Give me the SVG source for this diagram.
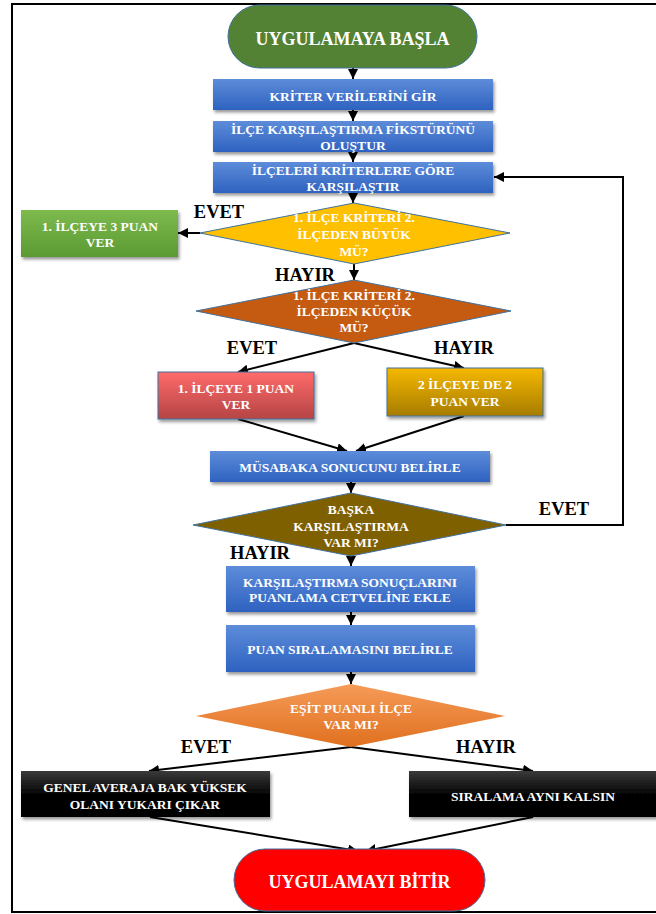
<svg xmlns="http://www.w3.org/2000/svg" width="656" height="914" viewBox="0 0 656 914">
<defs>
<style>
.t{font-weight:bold;fill:#fff;text-anchor:middle;font-size:13.5px}
.big{font-size:18px}
.lbl{font-weight:bold;fill:#000;text-anchor:middle;font-size:18.5px}
.edge{stroke:#000;stroke-width:2;fill:none;marker-end:url(#ah)}
.sh{filter:url(#ds)}
.bd{stroke:#41719C;stroke-width:1}
</style>
<marker id="ah" markerUnits="userSpaceOnUse" markerWidth="11" markerHeight="10" refX="10" refY="5" orient="auto"><path d="M0,0 L10,5 L0,10 z" fill="#000"/></marker>
<filter id="ds" x="-10%" y="-20%" width="125%" height="150%"><feDropShadow dx="1.5" dy="2.5" stdDeviation="1.8" flood-color="#000" flood-opacity="0.4"/></filter>
<linearGradient id="gBlue" x1="0" y1="0" x2="0" y2="1"><stop offset="0" stop-color="#5D8CD9"/><stop offset="1" stop-color="#2E62C0"/></linearGradient>
<linearGradient id="gGreen" x1="0" y1="0" x2="0" y2="1"><stop offset="0" stop-color="#7DBA4E"/><stop offset="1" stop-color="#5B9A33"/></linearGradient>
<linearGradient id="gRed" x1="0" y1="0" x2="0" y2="1"><stop offset="0" stop-color="#FF6B6B"/><stop offset="1" stop-color="#B54444"/></linearGradient>
<linearGradient id="gGold" x1="0" y1="0" x2="0" y2="1"><stop offset="0" stop-color="#F5B800"/><stop offset="1" stop-color="#A77C00"/></linearGradient>
<linearGradient id="gOrange" x1="0" y1="0" x2="0" y2="1"><stop offset="0" stop-color="#F59B58"/><stop offset="1" stop-color="#E0701F"/></linearGradient>
<linearGradient id="gBlack" x1="0" y1="0" x2="0" y2="1"><stop offset="0" stop-color="#3A3A3A"/><stop offset="0.5" stop-color="#050505"/><stop offset="1" stop-color="#000"/></linearGradient>
</defs>
<rect x="0" y="0" width="656" height="914" fill="#fff"/>
<rect x="12" y="4" width="660" height="908" fill="none" stroke="#000" stroke-width="2"/>

<g id="connectors">
<line class="edge" x1="353" y1="68" x2="353" y2="79"/>
<line class="edge" x1="353" y1="110" x2="353" y2="121"/>
<line class="edge" x1="353" y1="152" x2="353" y2="162"/>
<line class="edge" x1="353" y1="193" x2="353" y2="203"/>
<line class="edge" x1="200" y1="233" x2="178" y2="233"/>
<line class="edge" x1="354" y1="264" x2="354" y2="280"/>
<line class="edge" x1="354" y1="343" x2="238" y2="372"/>
<line class="edge" x1="354" y1="343" x2="464" y2="368"/>
<line class="edge" x1="238" y1="419" x2="347" y2="451"/>
<line class="edge" x1="464" y1="416" x2="356" y2="451"/>
<line class="edge" x1="351" y1="482" x2="351" y2="493"/>
<polyline class="edge" points="506,525 623,525 623,177 494,177"/>
<line class="edge" x1="351" y1="556" x2="351" y2="566"/>
<line class="edge" x1="351" y1="612" x2="351" y2="625"/>
<line class="edge" x1="351" y1="672" x2="351" y2="684"/>
<line class="edge" x1="351" y1="747" x2="149" y2="771"/>
<line class="edge" x1="351" y1="747" x2="533" y2="771"/>
<line class="edge" x1="150" y1="817" x2="358" y2="851"/>
<line class="edge" x1="533" y1="817" x2="366" y2="851"/>
</g>

<g font-family="Liberation Serif, Times New Roman, DejaVu Serif, serif">
<g id="start">
<rect class="bd" x="228" y="5" width="249" height="63" rx="31.5" fill="#548235"/>
<text class="t big" x="352.5" y="45">UYGULAMAYA BAŞLA</text>
</g>

<g id="kriter">
<rect class="sh" x="213" y="79" width="280" height="31" fill="url(#gBlue)"/>
<text class="t" x="353" y="101">KRİTER VERİLERİNİ GİR</text>
</g>

<g id="fikstur">
<rect class="sh" x="213" y="121" width="280" height="31" fill="url(#gBlue)"/>
<text class="t" x="353" y="134">İLÇE KARŞILAŞTIRMA  FİKSTÜRÜNÜ</text>
<text class="t" x="353" y="150">OLUŞTUR</text>
</g>

<g id="karsilastir">
<rect class="sh" x="213" y="162" width="280" height="31" fill="url(#gBlue)"/>
<text class="t" x="353" y="175">İLÇELERİ KRİTERLERE  GÖRE</text>
<text class="t" x="353" y="191">KARŞILAŞTIR</text>
</g>

<g id="buyuk">
<polygon class="bd" points="354,203 510,233 354,264 200,233" fill="#FFC000"/>
<text class="t" x="354" y="222">1. İLÇE KRİTERİ  2.</text>
<text class="t" x="354" y="239">İLÇEDEN BÜYÜK</text>
<text class="t" x="354" y="256">MÜ?</text>
</g>

<g id="puan3">
<rect class="sh" x="21" y="210" width="157" height="47" fill="url(#gGreen)"/>
<text class="t" x="100" y="231">1. İLÇEYE 3 PUAN</text>
<text class="t" x="100" y="247">VER</text>
</g>

<g id="kucuk">
<polygon class="bd" points="354,280 511,311 354,343 196,311" fill="#C55A11"/>
<text class="t" x="354" y="300">1. İLÇE KRİTERİ  2.</text>
<text class="t" x="354" y="316">İLÇEDEN KÜÇÜK</text>
<text class="t" x="354" y="332">MÜ?</text>
</g>

<g id="puan1">
<rect class="sh bd" x="158" y="372" width="156" height="47" fill="url(#gRed)"/>
<text class="t" x="236" y="393">1. İLÇEYE  1 PUAN</text>
<text class="t" x="236" y="409">VER</text>
</g>

<g id="puan2">
<rect class="sh bd" x="387" y="368" width="156" height="48" fill="url(#gGold)"/>
<text class="t" x="465" y="389">2 İLÇEYE  DE 2</text>
<text class="t" x="465" y="406">PUAN VER</text>
</g>

<g id="musabaka">
<rect class="sh" x="210" y="451" width="280" height="31" fill="url(#gBlue)"/>
<text class="t" x="350" y="472">MÜSABAKA  SONUCUNU BELİRLE</text>
</g>

<g id="baska">
<polygon class="bd" points="351,493 506,525 351,556 193,525" fill="#7F6000"/>
<text class="t" x="351" y="514">BAŞKA</text>
<text class="t" x="351" y="531">KARŞILAŞTIRMA</text>
<text class="t" x="351" y="547">VAR MI?</text>
</g>

<g id="ekle">
<rect class="sh" x="226" y="566" width="249" height="46" fill="url(#gBlue)"/>
<text class="t" x="350" y="587">KARŞILAŞTIRMA  SONUÇLARINI</text>
<text class="t" x="350" y="602">PUANLAMA  CETVELİNE  EKLE</text>
</g>

<g id="siralama">
<rect class="sh" x="226" y="625" width="249" height="47" fill="url(#gBlue)"/>
<text class="t" x="350" y="654">PUAN SIRALAMASINI  BELİRLE</text>
</g>

<g id="esit">
<polygon points="351,684 505,716 351,747 196,716" fill="url(#gOrange)"/>
<text class="t" x="351" y="713">EŞİT  PUANLI İLÇE</text>
<text class="t" x="351" y="729">VAR MI?</text>
</g>

<g id="averaj">
<rect class="sh" x="21" y="771" width="249" height="46" fill="url(#gBlack)"/>
<text class="t" x="145" y="792">GENEL AVERAJA  BAK YÜKSEK</text>
<text class="t" x="145" y="809">OLANI YUKARI  ÇIKAR</text>
</g>

<g id="ayni">
<rect class="sh" x="409" y="771" width="260" height="46" fill="url(#gBlack)"/>
<text class="t" x="533" y="801">SIRALAMA  AYNI KALSIN</text>
</g>

<g id="end">
<rect class="bd" x="234" y="849" width="251" height="62" rx="31" fill="#FF0000"/>
<text class="t big" x="359.5" y="888">UYGULAMAYI BİTİR</text>
</g>

<g id="labels">
<text class="lbl" x="219" y="218">EVET</text>
<text class="lbl" x="305" y="281">HAYIR</text>
<text class="lbl" x="252" y="354">EVET</text>
<text class="lbl" x="464" y="354">HAYIR</text>
<text class="lbl" x="564" y="515">EVET</text>
<text class="lbl" x="260" y="559">HAYIR</text>
<text class="lbl" x="206" y="753">EVET</text>
<text class="lbl" x="486" y="753">HAYIR</text>
</g>
</g>
</svg>
